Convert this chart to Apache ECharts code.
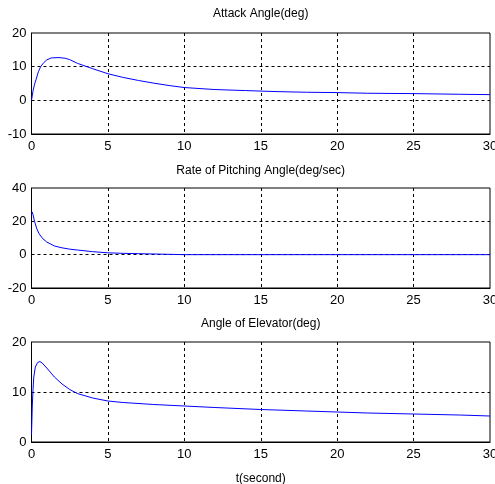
<!DOCTYPE html>
<html><head><meta charset="utf-8">
<script src="https://cdn.jsdelivr.net/npm/echarts@6/dist/echarts.min.js"></script>
<style>html,body{margin:0;padding:0;background:#fff}#c{width:495px;height:484px}</style>
</head><body><div id="c"></div>
<script>
const titles = ['Attack Angle(deg)', 'Rate of Pitching Angle(deg/sec)', 'Angle of Elevator(deg)'];
const xLabel = 't(second)';
const attackT = [0,0.1,0.2,0.3,0.45,0.6,0.8,1,1.3,1.8,2.2,2.5,3,3.5,4,5,6,7,8,9,10,12,14,16,18,20,22,25,28,30];
const attackV = [0,2.8,4.8,6.2,8.5,10,11.2,12,12.6,12.7,12.5,12.1,11,10.2,9.4,7.9,6.8,5.9,5.1,4.4,3.8,3.2,2.9,2.6,2.4,2.3,2.1,2.0,1.8,1.7];
const rateT = [0,0.05,0.1,0.2,0.35,0.5,0.75,1,1.5,2,2.5,3,4,5,6,7,7.5,7.6,10,30];
const rateV = [24,25.5,24,20,15.5,12.5,9.5,7.6,5.2,4.1,3.3,2.8,1.8,1.1,0.8,0.6,0.5,0,0,0];
const elevT = [0,0.05,0.1,0.15,0.25,0.4,0.55,0.7,1,1.5,2,2.5,3,4,5,6,8,10,12,15,18,20,22,25,28,30];
const elevV = [1.5,7,10.5,13,15,15.9,16.1,15.8,14.8,13,11.6,10.5,9.7,8.8,8.2,7.9,7.5,7.2,6.9,6.5,6.2,6.0,5.8,5.6,5.4,5.2];
const yRanges = [[-10,20,10],[-20,40,20],[0,20,10]];
const xRange = [0,30,5];

const FONT = 'Liberation Sans, Arial, sans-serif';
const grids = [{top:33,height:101},{top:188,height:100},{top:342,height:100}];
const titleY = [15,172,325];
const series = [[attackT,attackV],[rateT,rateV],[elevT,elevV]];
const chart = echarts.init(document.getElementById('c'), null, {renderer:'canvas'});
const dash = {show:true, lineStyle:{color:'#000', type:[3,3], width:1}, showMinLine:false, showMaxLine:false};
chart.setOption({
  animation:false,
  backgroundColor:'#fff',
  title: titles.map((t,i)=>({text:t, left:260.7, top:titleY[i]-7, textAlign:'center',
    textStyle:{fontFamily:FONT, fontSize:12, fontWeight:'normal', color:'#000'}, padding:0})),
  grid: grids.map(g=>({left:31.5, width:458.5, top:g.top, height:g.height, show:true, borderColor:'#000', borderWidth:1, backgroundColor:'#fff', outerBoundsMode:'none', containLabel:false})),
  xAxis: grids.map((g,i)=>({type:'value', gridIndex:i, min:xRange[0], max:xRange[1], interval:xRange[2],
    axisLine:{show:true, onZero:false, lineStyle:{color:'#000'}}, axisTick:{show:false},
    axisLabel:{fontFamily:FONT, fontSize:13, color:'#000', margin:6, hideOverlap:false},
    splitLine:dash,
    name: i===2 ? xLabel : '', nameLocation:'middle', nameGap:31,
    nameTextStyle:{fontFamily:FONT, fontSize:12, color:'#000'}})),
  yAxis: grids.map((g,i)=>({type:'value', gridIndex:i, min:yRanges[i][0], max:yRanges[i][1], interval:yRanges[i][2],
    axisLine:{show:true, onZero:false, lineStyle:{color:'#000'}}, axisTick:{show:false},
    axisLabel:{fontFamily:FONT, fontSize:13, color:'#000', margin:5},
    splitLine:dash})),
  series: series.map((s,i)=>({type:'line', xAxisIndex:i, yAxisIndex:i, showSymbol:false, smooth:false,
    lineStyle:{color:'#0000ff', width:1}, data:s[0].map((t,k)=>[t,s[1][k]])}))
});
</script></body></html>
